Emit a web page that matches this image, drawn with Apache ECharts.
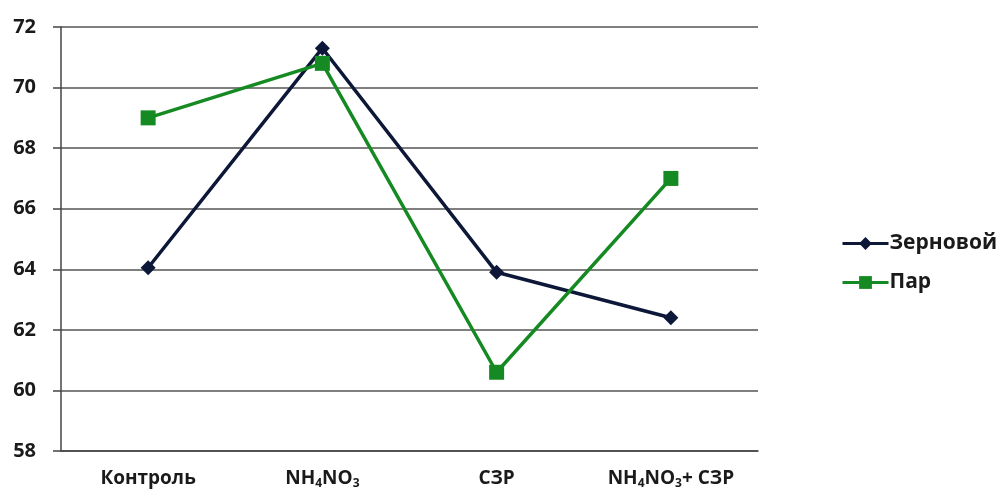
<!DOCTYPE html>
<html>
<head>
<meta charset="utf-8">
<script src="https://cdn.jsdelivr.net/npm/echarts@6/dist/echarts.min.js"></script>
<style>html,body{margin:0;padding:0;background:#fff}#c{width:1006px;height:493px}</style>
</head>
<body>
<div id="c"></div>
<script>
var categories = ['Контроль', 'NH4NO3', 'СЗР', 'NH4NO3+ СЗР'];
var seriesNames = ['Зерновой', 'Пар'];
var zernovoy = [64.05, 71.3, 63.9, 62.4];
var par = [69.0, 70.8, 60.6, 67.0];
var yTicks = {min: 58, max: 72, interval: 2};

var FONT = '"Open Sans", "Noto Sans", "DejaVu Sans", sans-serif';
var chart = echarts.init(document.getElementById('c'));
chart.setOption({
  animation: false,
  backgroundColor: '#fff',
  grid: {left: 61, right: 248, top: 27, bottom: 42, containLabel: false},
  legend: {
    orient: 'vertical', left: 836, top: 228, itemGap: 18,
    itemWidth: 46, itemHeight: 16,
    lineStyle: {width: 3},
    textStyle: {fontFamily: FONT, fontSize: 21, fontWeight: 'bold', color: '#1a1a1a', padding: [0,0,0,-4]},
    data: seriesNames
  },
  xAxis: {
    type: 'category', data: categories, boundaryGap: true,
    axisLine: {lineStyle: {color: '#444', width: 1.5}},
    axisTick: {length: 6, lineStyle: {color: '#444', width: 1.5}},
    axisLabel: {
      margin: 16, interval: 0,
      formatter: function (v) {
        if (v.indexOf('NH4NO3') === 0) {
          var rest = v.slice(6);
          return '{n|NH}{s|4}{n|NO}{s|3}' + (rest ? '{n|' + rest + '}' : '');
        }
        return '{n|' + v + '}';
      },
      rich: {
        n: {fontFamily: FONT, fontSize: 19, fontWeight: 'bold', color: '#1a1a1a', lineHeight: 24},
        s: {fontFamily: FONT, fontSize: 12, fontWeight: 'bold', color: '#1a1a1a', lineHeight: 24, padding: [9,0,0,0]}
      }
    }
  },
  yAxis: {
    type: 'value', min: yTicks.min, max: yTicks.max, interval: yTicks.interval,
    axisLine: {show: true, lineStyle: {color: '#444', width: 1.5}},
    axisTick: {show: true, length: 8, lineStyle: {color: '#444', width: 1.5}},
    axisLabel: {margin: 25, fontFamily: FONT, fontSize: 20, fontWeight: 'bold', color: '#1a1a1a'},
    splitLine: {show: true, lineStyle: {color: '#555', width: 1.5}}
  },
  series: [
    {name: seriesNames[0], type: 'line', data: zernovoy, symbol: 'diamond', symbolSize: 15,
     itemStyle: {color: '#0d1838'}, lineStyle: {color: '#0d1838', width: 3.5}, z: 3},
    {name: seriesNames[1], type: 'line', data: par, symbol: 'rect', symbolSize: 15,
     itemStyle: {color: '#168a22'}, lineStyle: {color: '#168a22', width: 3.5}, z: 4}
  ]
});
</script>
</body>
</html>
